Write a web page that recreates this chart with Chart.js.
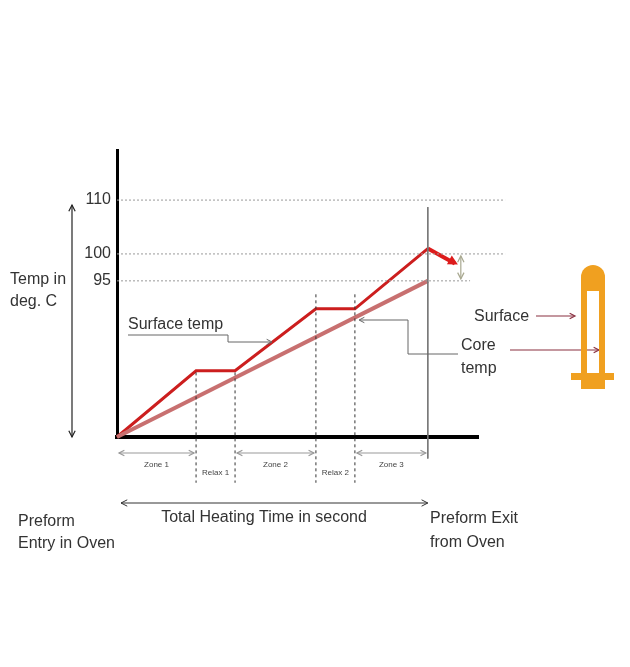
<!DOCTYPE html>
<html><head><meta charset="utf-8">
<script src="https://cdn.jsdelivr.net/npm/chart.js@4"></script>
<style>html,body{margin:0;padding:0;background:#fff}#w{width:630px;height:667px}</style>
</head><body><div id="w"><canvas id="c"></canvas></div>
<script>
const timePts = [0, 21.9, 32.7, 55.1, 65.9, 86.1];
const surfaceTemp = [66, 78.3, 78.3, 89.8, 89.8, 101];
const coreTemp = [66, null, null, null, null, 95];
const zoneLabels = ["Zone 1", "Relax 1", "Zone 2", "Relax 2", "Zone 3"];
const tickTemps = [95, 100, 110];
const exitArrow = {x: 93.6, y: 98.2};

const F = "'Liberation Sans Narrow','Liberation Sans',Arial,sans-serif";
const pts = (ys) => timePts.map((x,i)=>({x, y: ys[i]})).filter(p=>p.y!==null);

const ds = [
  {data: [{x:0,y:110},{x:107.5,y:110}], borderColor:'#999', borderWidth:1, borderDash:[2,2]},
  {data: [{x:0,y:100},{x:107.5,y:100}], borderColor:'#999', borderWidth:1, borderDash:[2,2]},
  {data: [{x:0,y:95},{x:97.8,y:95}], borderColor:'#999', borderWidth:1, borderDash:[2,2]},
  {data: [{x:timePts[1],y:78},{x:timePts[1],y:57.5}], borderColor:'#333', borderWidth:1, borderDash:[3,3]},
  {data: [{x:timePts[2],y:78},{x:timePts[2],y:57.5}], borderColor:'#333', borderWidth:1, borderDash:[3,3]},
  {data: [{x:timePts[3],y:92.5},{x:timePts[3],y:57.5}], borderColor:'#333', borderWidth:1, borderDash:[3,3]},
  {data: [{x:timePts[4],y:92.5},{x:timePts[4],y:57.5}], borderColor:'#333', borderWidth:1, borderDash:[3,3]},
  {data: [{x:timePts[5],y:108.7},{x:timePts[5],y:62}], borderColor:'#777', borderWidth:1},
  {data: pts(coreTemp), borderColor:'#c87070', borderWidth:4},
  {data: pts(surfaceTemp), borderColor:'#cc1e1e', borderWidth:3},
  {data: [{x:timePts[5],y:surfaceTemp[5]},exitArrow], borderColor:'#dd1c1c', borderWidth:4},
];
ds.forEach(d=>{d.pointRadius=0; d.clip=false; d.fill=false; d.tension=0;});

const deco = {
  id:'deco',
  afterDatasetsDraw(ch){
    const c=ch.ctx, X=ch.scales.x, Y=ch.scales.y;
    const px=v=>X.getPixelForValue(v), py=v=>Y.getPixelForValue(v);
    c.save();
    function arrowHead(x,y,ang,len,col,w,fillHead){
      c.save();
      c.strokeStyle=col;c.fillStyle=col;c.lineWidth=w;
      const a1=ang+Math.PI*0.85,a2=ang-Math.PI*0.85;
      c.beginPath();c.moveTo(x+len*Math.cos(a1),y+len*Math.sin(a1));c.lineTo(x,y);c.lineTo(x+len*Math.cos(a2),y+len*Math.sin(a2));
      if(fillHead){c.closePath();c.fill();}else c.stroke();
      c.restore();
    }
    function line(x1,y1,x2,y2,col,w){c.save();c.strokeStyle=col;c.lineWidth=w;c.beginPath();c.moveTo(x1,y1);c.lineTo(x2,y2);c.stroke();c.restore();}
    const ax=px(exitArrow.x), ay=py(exitArrow.y);
    const ang=Math.atan2(ay-py(surfaceTemp[5]), ax-px(timePts[5]));
    arrowHead(ax+3,ay+1,ang,11,'#dd1c1c',1,true);
    const dx=px(timePts[5])+33;
    line(dx,py(100)+2,dx,py(95)-2,'#a8a890',1.2);
    arrowHead(dx,py(100)+2,-Math.PI/2,7,'#a8a890',1.2);
    arrowHead(dx,py(95)-2,Math.PI/2,7,'#a8a890',1.2);
    line(72,205,72,437,'#222',1.2);
    arrowHead(72,205,-Math.PI/2,7,'#222',1.2);
    arrowHead(72,437,Math.PI/2,7,'#222',1.2);
    c.font='8px '+F; c.fillStyle='#444'; c.textAlign='center';
    const zy=py(66)+16;
    for(let i=0;i<5;i++){
      const x1=px(timePts[i]),x2=px(timePts[i+1]);
      if(i%2===0){
        line(x1+2,zy,x2-2,zy,'#999',1.2);
        arrowHead(x1+2,zy,Math.PI,6,'#999',1.2);arrowHead(x2-2,zy,0,6,'#999',1.2);
        c.fillText(zoneLabels[i],(x1+x2)/2,zy+14);
      } else c.fillText(zoneLabels[i],(x1+x2)/2,zy+22);
    }
    const ty=503;
    line(px(0)+4,ty,px(timePts[5]),ty,'#333',1);
    arrowHead(px(0)+4,ty,Math.PI,7,'#333',1);arrowHead(px(timePts[5]),ty,0,7,'#333',1);
    // leaders
    line(128,335,228,335,'#666',1); line(228,335,228,342,'#666',1); line(228,342,270,342,'#666',1);
    arrowHead(272,342,0,6,'#666',1);
    line(458,354,408,354,'#666',1); line(408,354,408,320,'#666',1); line(408,320,360,320,'#666',1);
    arrowHead(359,320,Math.PI,6,'#666',1);
    line(536,316,574,316,'#8a3040',1.2); arrowHead(575,316,0,6,'#8a3040',1.2);
    line(510,350,598,350,'#8a3040',1.2); arrowHead(599,350,0,6,'#8a3040',1.2);
    // texts
    c.fillStyle='#333'; c.font='16px '+F;
    c.textAlign='center'; c.fillText('Total Heating Time in second',264,522);
    c.textAlign='left';
    c.fillText('Preform',18,526); c.fillText('Entry in Oven',18,548);
    c.fillText('Preform Exit',430,523); c.fillText('from Oven',430,547);
    c.fillText('Temp in',10,284); c.fillText('deg. C',10,306);
    c.fillText('Surface temp',128,329);
    c.fillText('Core',461,350); c.fillText('temp',461,373);
    c.fillText('Surface',474,321);
    // preform
    c.fillStyle='#f0a020';
    c.beginPath();c.moveTo(581,289);c.lineTo(581,277);c.arc(593,277,12,Math.PI,0);c.lineTo(605,289);c.closePath();c.fill();
    c.fillRect(581,289,6,87);c.fillRect(599,289,6,87);
    c.fillRect(581,287,24,4);
    c.fillRect(571,373,43,7);c.fillRect(581,380,24,9);
    c.restore();
  }
};

new Chart(document.getElementById('c'),{
  type:'line',
  data:{datasets:ds},
  options:{
    responsive:true, maintainAspectRatio:false, animation:false,
    layout:{padding:{left:0,top:150,right:152,bottom:230}},
    plugins:{legend:{display:false},tooltip:{enabled:false}},
    scales:{
      x:{type:'linear',min:0,max:100,grid:{display:false,drawTicks:false},ticks:{display:false},border:{color:'#000',width:4}},
      y:{min:66,max:119.3,afterFit(s){s.width=117;},
         afterBuildTicks(s){s.ticks=tickTemps.map(v=>({value:v}));},
         grid:{display:false,drawTicks:false},
         ticks:{color:'#333',font:{family:F,size:16},padding:6},
         border:{color:'#000',width:3}}
    }
  },
  plugins:[deco]
});
</script></body></html>
